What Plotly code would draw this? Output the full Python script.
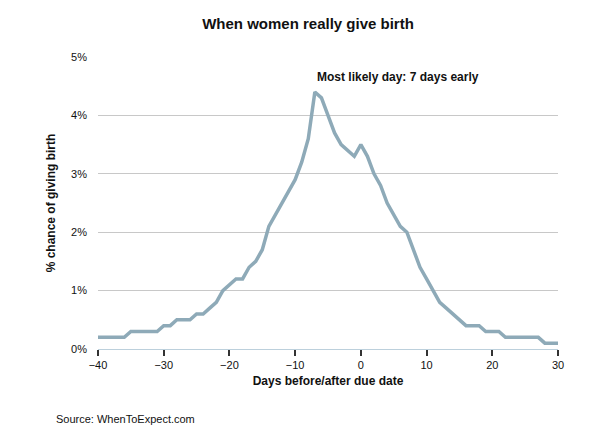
import plotly.graph_objects as go

days = list(range(-40, 31))
pct = [0.2, 0.2, 0.2, 0.2, 0.2, 0.3, 0.3, 0.3, 0.3, 0.3,
       0.4, 0.4, 0.5, 0.5, 0.5, 0.6, 0.6, 0.7, 0.8, 1.0,
       1.1, 1.2, 1.2, 1.4, 1.5, 1.7, 2.1, 2.3, 2.5, 2.7,
       2.9, 3.2, 3.6, 4.4, 4.3, 4.0, 3.7, 3.5, 3.4, 3.3,
       3.5, 3.3, 3.0, 2.8, 2.5, 2.3, 2.1, 2.0, 1.7, 1.4,
       1.2, 1.0, 0.8, 0.7, 0.6, 0.5, 0.4, 0.4, 0.4, 0.3,
       0.3, 0.3, 0.2, 0.2, 0.2, 0.2, 0.2, 0.2, 0.1, 0.1, 0.1]
y_ticks = [0, 1, 2, 3, 4, 5]
y_labels = ["0%", "1%", "2%", "3%", "4%", "5%"]
x_ticks = [-40, -30, -20, -10, 0, 10, 20, 30]

font = "Liberation Sans"
fig = go.Figure()
fig.add_trace(go.Scatter(x=days, y=pct, mode="lines",
                         line=dict(color="#8eaab8", width=3.5), hoverinfo="skip"))

fig.add_annotation(x=-7, y=4.4, text="<b>Most likely day: 7 days early</b>",
                   showarrow=False, xanchor="left", yanchor="bottom",
                   xshift=0, yshift=6, font=dict(family=font, size=12, color="#111"))

fig.update_layout(
    width=600, height=436,
    margin=dict(l=90, r=50, t=49, b=95),
    paper_bgcolor="white", plot_bgcolor="white",
    showlegend=False,
    font=dict(family=font, size=11, color="#111"),
    title=dict(text="<b>When women really give birth</b>", x=0.5, xanchor="center",
               y=0.965, yanchor="middle", font=dict(family=font, size=15, color="#111")),
    annotations=list(fig.layout.annotations) + [
        dict(text="Source: WhenToExpect.com", xref="paper", yref="paper",
             x=-0.095, y=-0.24, xanchor="left", yanchor="middle", showarrow=False,
             font=dict(family=font, size=11, color="#111"))],
)
fig.update_xaxes(range=[-40, 30], tickvals=x_ticks, showgrid=False,
                 showline=True, linecolor="#bcd0dc", linewidth=1,
                 ticks="outside", ticklen=6, tickcolor="#333", tickwidth=1.5,
                 zeroline=False,
                 title=dict(text="<b>Days before/after due date</b>", standoff=6,
                            font=dict(size=12)))
fig.update_yaxes(range=[0, 5], tickvals=y_ticks, ticktext=y_labels,
                 showgrid=True, gridcolor="#c8c8c8", zeroline=False,
                 showline=False, ticks="", ticklabelstandoff=10,
                 title=dict(text="<b>% chance of giving birth</b>", standoff=12,
                            font=dict(size=12)))

fig.write_html("out.html")
